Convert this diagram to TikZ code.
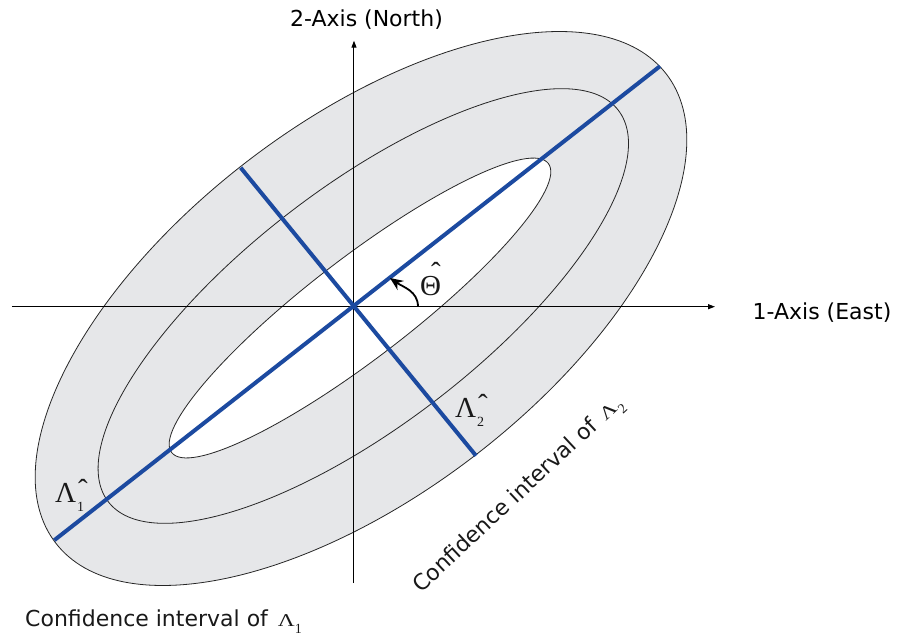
\documentclass[tikz,border=0pt]{standalone}
\usepackage{graphicx}
\usepackage{fontspec}
\setmainfont{DejaVu Sans}
\newfontfamily\grk{Liberation Serif}
\usetikzlibrary{arrows.meta, positioning, calc}
\definecolor{bandgray}{RGB}{230,231,233}
\definecolor{estblue}{RGB}{28,74,160}
\newcommand{\cilam}[1]{{\grk\scalebox{1.3}[1]{\fontsize{18}{18}\selectfont Λ}\raisebox{-7pt}{\fontsize{14}{14}\selectfont #1}}}
\newcommand{\estsym}[2]{{\grk\fontsize{29}{32}\selectfont #1\kern1pt\rlap{\kern1pt\raisebox{2.5pt}{ˆ}}\raisebox{-9.8pt}{\fontsize{14}{14}\selectfont #2}}}

\begin{document}
\begin{tikzpicture}[x=1pt, y=1pt,
    font=\fontsize{22}{26}\selectfont,
    band/.style={draw=black!85, line width=0.8pt},
    axis/.style={draw=black, line width=1pt, -{Triangle[length=7pt, width=5pt]}},
    estline/.style={draw=estblue, line width=4pt},
    lab/.style={inner sep=0pt, anchor=base west, text=black!90}]
  \useasboundingbox (-354,-334.3) rectangle (543,306.7);
  \draw[band, fill=bandgray, shift={(7,-1.8)}, rotate=37.5] (0,0) ellipse [x radius=385, y radius=186];
  \draw[band, shift={(9.3,0.7)}, rotate=37.5] (0,0) ellipse [x radius=321.5, y radius=119];
  \draw[band, fill=white, shift={(6,-1.3)}, rotate=37.5] (0,0) ellipse [x radius=237.4, y radius=50.2];

  \coordinate (O) at (0,0);
  \coordinate (west) at (-342,0);
  \coordinate (east) at (361,0);
  \coordinate (south) at (0,-276.3);
  \coordinate (north) at (0,266);
  \draw[axis] (west) -- (east);
  \draw[axis] (south) -- (north);
  \node (eastlab) at (468,-5.8) {1-Axis (East)};
  \node (northlab) at (12.5,286.7) {2-Axis (North)};

  \coordinate (maj1) at (-299.7,-233.5);
  \coordinate (maj2) at (306,240.5);
  \coordinate (min1) at (-113.3,139);
  \coordinate (min2) at (122,-149);
  \draw[estline] (maj1) -- (maj2);
  \draw[estline] (min1) -- (min2);

  \coordinate (arcstart) at (64,0);
  \coordinate (arcend) at (36,28.7);
  \draw[line width=1.8pt, -{Stealth[length=13pt, width=11pt]}] (arcstart) to[out=90, in=-35] (arcend);

  \node[lab] (theta) at (66,11.7) {{\grk\fontsize{29}{32}\selectfont Θ\kern-10pt\raisebox{12.3pt}{ˆ}}};
  \node[lab] (lam1) at (-299,-195.3) {\estsym{Λ}{1}};
  \node[lab] (lam2) at (101,-110.3) {\estsym{Λ}{2}};
  \node[lab] (ci1) at (-329,-319.5) {Confidence interval of\hspace{0.45em}\cilam{1}};
  \node[lab, rotate=43] (ci2) at (67,-287) {Confidence interval of\hspace{0.45em}\cilam{2}};
\end{tikzpicture}
\end{document}
